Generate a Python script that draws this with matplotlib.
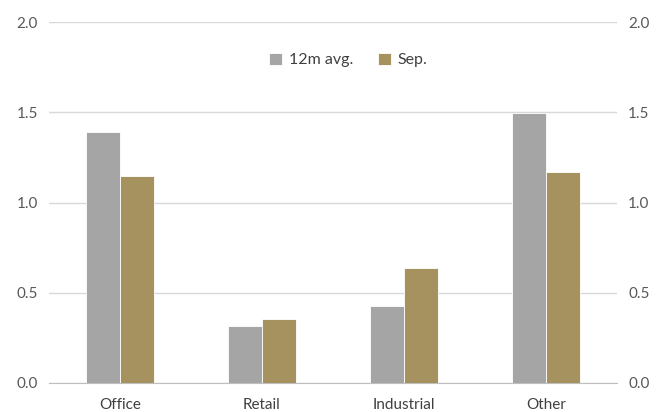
import numpy as np
import matplotlib.pyplot as plt

categories = ["Office", "Retail", "Industrial", "Other"]
avg_12m = [1.39, 0.316, 0.427, 1.496]
sep = [1.147, 0.355, 0.637, 1.169]

plt.rcParams['font.family'] = ['Lato', 'DejaVu Sans']

fig = plt.figure(figsize=(6.58, 4.12), dpi=100)
ax = fig.add_axes([49 / 658, 29 / 412, 568 / 658, 361 / 412])

x = np.arange(len(categories))
w = 0.24
ax.bar(x - w / 2, avg_12m, w, color="#a5a5a5", edgecolor="white", linewidth=0.6, label="12m avg.", zorder=3)
ax.bar(x + w / 2, sep, w, color="#a6925e", edgecolor="white", linewidth=0.6, label="Sep.", zorder=3)

ax.set_xlim(-0.5, 3.5)
ax.set_ylim(0, 2.0)
ax.set_yticks([0, 0.5, 1.0, 1.5, 2.0])
ax.set_yticklabels(["0.0", "0.5", "1.0", "1.5", "2.0"])
ax.set_xticks(x)
ax.set_xticklabels(categories)
ax.tick_params(axis="y", length=0, labelsize=11, colors="#595959", labelright=True, pad=8)
ax.tick_params(axis="x", length=0, labelsize=11, colors="#404040", pad=11)
ax.grid(axis="y", color="#d9d9d9", linewidth=1, zorder=0)
for s in ["top", "left", "right"]:
    ax.spines[s].set_visible(False)
ax.spines["bottom"].set_color("#bfbfbf")

ax.legend(loc="center", bbox_to_anchor=(0.527, 0.895), ncol=2, frameon=False,
          fontsize=11.5, handlelength=0.8, handleheight=0.8, columnspacing=1.6,
          handletextpad=0.4, labelcolor="#404040")

fig.savefig("out.png", dpi=100)
